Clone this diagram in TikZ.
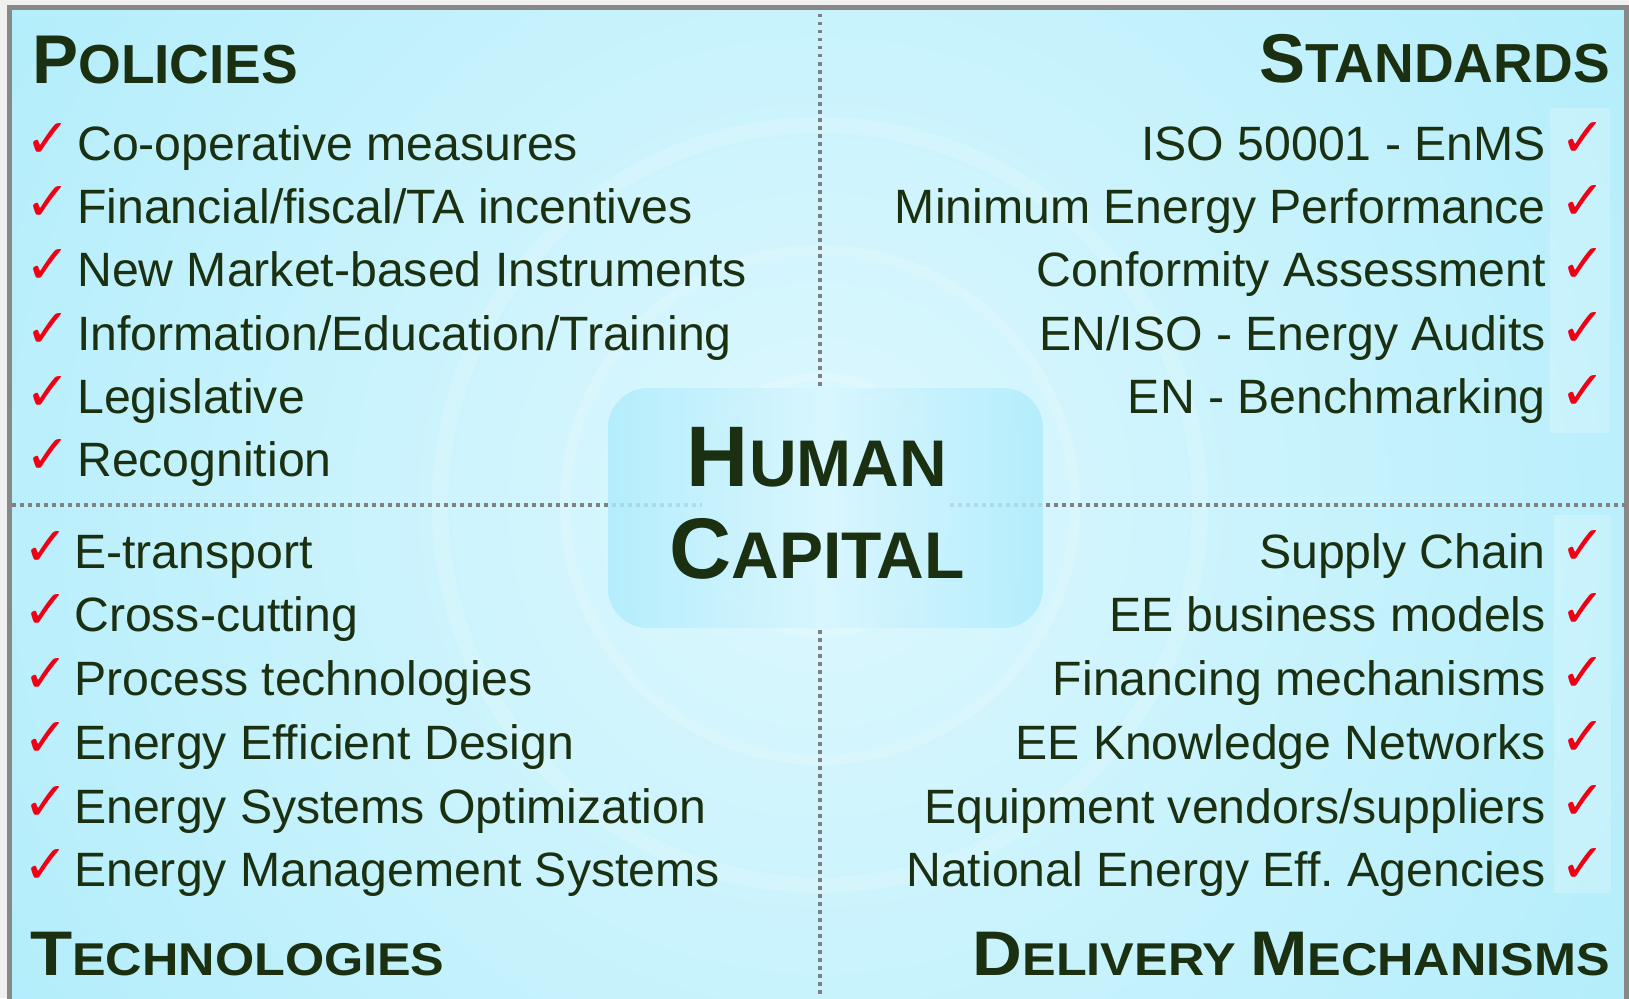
\documentclass[tikz,border=0pt]{standalone}
\usepackage{fontspec}
\setmainfont{Liberation Sans}
\newfontfamily\dejavu{DejaVu Sans}
\definecolor{txt}{RGB}{27,48,17}
\definecolor{bgout}{RGB}{166,234,250}
\definecolor{bgin}{RGB}{222,248,254}
\definecolor{framec}{RGB}{136,136,136}
\definecolor{dotc}{RGB}{128,128,128}
\definecolor{chk}{RGB}{240,0,20}
\definecolor{boxedge}{RGB}{174,236,252}
\definecolor{boxmid}{RGB}{216,246,254}
\newcommand{\fakesc}[4]{{\fontsize{#1}{#1}\selectfont #3}{\fontsize{#2}{#2}\selectfont #4}}
\begin{document}
\begin{tikzpicture}[x=1pt,y=-1pt,
  item/.style={font=\fontsize{48.2}{48.2}\selectfont\frenchspacing, text=txt, inner sep=0pt},
  litem/.style={item, anchor=base west},
  ritem/.style={item, anchor=base east},
  tick/.style={font=\dejavu\fontsize{54}{54}\selectfont, text=chk, inner sep=0pt, anchor=base west},
  head/.style={font=\bfseries, text=txt, inner sep=0pt},
  dotline/.style={draw=dotc, line width=3.5pt, dash pattern=on 3.5pt off 4.5pt},
  ring/.style={draw=white, draw opacity=0.16}
]
\useasboundingbox (0,0) rectangle (1629,998);
\fill[white!94!black] (0,0) rectangle (1629,998);
% background
\begin{scope}
\clip (12,10) rectangle (1625,998);
\shade[inner color=bgin, outer color=bgout] (820,505) circle (1250);
\draw[ring, line width=16pt] (820,505) circle (380);
\draw[ring, line width=10pt] (820,505) circle (255);
\draw[ring, line width=8pt] (820,505) circle (128);
\end{scope}
\draw[framec, line width=5pt] (9.5,1010) -- (9.5,7.5) -- (1626.5,7.5) -- (1626.5,1010);
% light strips behind right ticks
\fill[white, opacity=0.2] (1550,108) rectangle (1610,433);
\fill[white, opacity=0.2] (1554,515) rectangle (1611,893);
% dotted dividers
\coordinate (hl1) at (12,505);
\coordinate (hl2) at (702,505);
\coordinate (hr1) at (950,505);
\coordinate (hr2) at (1625,505);
\coordinate (vt1) at (820,14);
\coordinate (vt2) at (820,386);
\coordinate (vb1) at (820,630);
\coordinate (vb2) at (820,998);
\path[dotline] (hl1) -- (hl2);
\path[dotline] (hr1) -- (hr2);
\path[dotline] (vt1) -- (vt2);
\path[dotline] (vb1) -- (vb2);
% centre box
\path[rounded corners=40pt, left color=boxedge, right color=boxedge, middle color=boxmid, fill opacity=0.82] (608,388) rectangle (1043,628);
\node[head, anchor=base] (hum) at (817,486) {\fakesc{86}{66}{H}{UMAN}};
\node[head, anchor=base] (cap) at (817,578) {\fakesc{86}{66}{C}{APITAL}};
% headings
\node[head, anchor=base west] (pol) at (32,83) {\fakesc{69}{55}{P}{OLICIES}};
\node[head, anchor=base east] (std) at (1610,82) {\fakesc{69}{55}{S}{TANDARDS}};
\node[head, anchor=base west] (tech) at (30,975) {\scalebox{1.095}[1]{\fakesc{63}{46}{T}{ECHNOLOGIES}}};
\node[head, anchor=base east] (del) at (1610,975) {\scalebox{1.095}[1]{\fakesc{63}{46}{D}{ELIVERY }\fakesc{63}{46}{M}{ECHANISMS}}};
% policies
\foreach \t [count=\i] in {Co-operative measures, Financial/fiscal/TA incentives, New Market-based Instruments, Information/Education/Training, Legislative, Recognition}{
  \node[tick] (pc\i) at (25,{160+(\i-1)*63.35-3}) {✓};
  \node[litem] (p\i) at (77,{160+(\i-1)*63.35}) {\t};
}
% technologies
\foreach \t [count=\i] in {E-transport, Cross-cutting, Process technologies, Energy Efficient Design, Energy Systems Optimization, Energy Management Systems}{
  \node[tick] (tc\i) at (23,{568.3+(\i-1)*63.68-3}) {✓};
  \node[litem] (t\i) at (74,{568.3+(\i-1)*63.68}) {\t};
}
% standards
\foreach \t [count=\i] in {ISO 50001 - EnMS, Minimum Energy Performance, Conformity Assessment, EN/ISO - Energy Audits, EN - Benchmarking}{
  \node[tick] (sc\i) at (1560,{160+(\i-1)*63.35-4}) {✓};
  \node[ritem] (s\i) at (1546,{160+(\i-1)*63.35}) {\t};
}
% delivery mechanisms
\foreach \t [count=\i] in {Supply Chain, EE business models, Financing mechanisms, EE Knowledge Networks, Equipment vendors/suppliers, National Energy Eff. Agencies}{
  \node[tick] (dc\i) at (1560,{568.3+(\i-1)*63.68-4}) {✓};
  \node[ritem] (d\i) at (1546,{568.3+(\i-1)*63.68}) {\t};
}
\end{tikzpicture}
\end{document}
